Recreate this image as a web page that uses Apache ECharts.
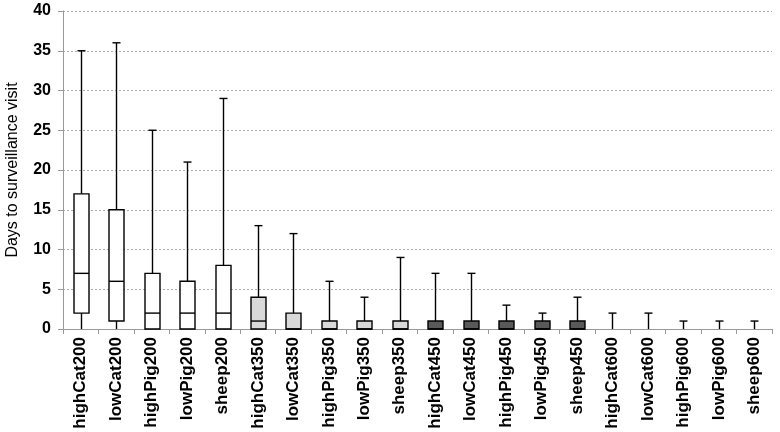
<!DOCTYPE html>
<html>
<head>
<meta charset="utf-8">
<script src="https://cdn.jsdelivr.net/npm/echarts@6/dist/echarts.min.js"></script>
<style>html,body{margin:0;padding:0;background:#fff;}#c{width:780px;height:432px;}</style>
</head>
<body>
<div id="c"></div>
<script>
var categories = ['highCat200','lowCat200','highPig200','lowPig200','sheep200',
  'highCat350','lowCat350','highPig350','lowPig350','sheep350',
  'highCat450','lowCat450','highPig450','lowPig450','sheep450',
  'highCat600','lowCat600','highPig600','lowPig600','sheep600'];
var mins    = [0,0,0,0,0, 0,0,0,0,0, 0,0,0,0,0, 0,0,0,0,0];
var q1s     = [2,1,0,0,0, 0,0,0,0,0, 0,0,0,0,0, 0,0,0,0,0];
var medians = [7,6,2,2,2, 1,0,0,0,0, 0,0,0,0,0, 0,0,0,0,0];
var q3s     = [17,15,7,6,8, 4,2,1,1,1, 1,1,1,1,1, 0,0,0,0,0];
var maxs    = [35,36,25,21,29, 13,12,6,4,9, 7,7,3,2,4, 2,2,1,1,1];
var yTicks  = [0,5,10,15,20,25,30,35,40];

function fillFor(name){
  if (/200$/.test(name)) return '#ffffff';
  if (/350$/.test(name)) return '#d9d9d9';
  if (/450$/.test(name)) return '#595959';
  return null;
}

var data = categories.map(function(c,i){
  return [i, mins[i], q1s[i], medians[i], q3s[i], maxs[i]];
});

var FONT = 'Liberation Sans, Arial, sans-serif';
var chart = echarts.init(document.getElementById('c'), null, {renderer:'canvas'});
var lineStyle = {stroke:'#000', lineWidth:1.4};
chart.setOption({
  animation:false,
  grid:{left:63,right:8,top:11,bottom:103,containLabel:false,outerBoundsMode:'none'},
  xAxis:{
    type:'category', data:categories, boundaryGap:true,
    axisLine:{lineStyle:{color:'#999',width:1}},
    axisTick:{show:true,length:5,lineStyle:{color:'#999'}},
    axisLabel:{rotate:90,interval:0,color:'#000',fontFamily:FONT,fontWeight:'bold',fontSize:17,margin:8}
  },
  yAxis:{
    type:'value', min:yTicks[0], max:yTicks[yTicks.length-1], interval:5,
    name:'Days to surveillance visit', nameLocation:'middle', nameGap:42,
    nameTextStyle:{color:'#000',fontFamily:FONT,fontSize:16},
    axisLine:{show:true,lineStyle:{color:'#999'}},
    axisTick:{show:true,length:5,lineStyle:{color:'#999'}},
    axisLabel:{color:'#000',fontFamily:FONT,fontWeight:'bold',fontSize:16,margin:12},
    splitLine:{show:true,lineStyle:{color:'#aaa',type:[2,2],width:1}}
  },
  series:[{
    type:'custom',
    data:data,
    encode:{x:0,y:[1,2,3,4,5]},
    renderItem:function(params, api){
      var idx = api.value(0);
      var pMin = api.coord([idx, api.value(1)]);
      var pQ1 = api.coord([idx, api.value(2)]);
      var pMed = api.coord([idx, api.value(3)]);
      var pQ3 = api.coord([idx, api.value(4)]);
      var pMax = api.coord([idx, api.value(5)]);
      var x = Math.round(pMin[0]) + 0.5;
      var bw = 15, cw = 8;
      var children = [];
      children.push({type:'line',shape:{x1:x,y1:pMax[1],x2:x,y2:pQ3[1]},style:lineStyle});
      children.push({type:'line',shape:{x1:x-cw/2,y1:pMax[1],x2:x+cw/2,y2:pMax[1]},style:lineStyle});
      children.push({type:'line',shape:{x1:x,y1:pQ1[1],x2:x,y2:pMin[1]},style:lineStyle});
      var fill = fillFor(categories[idx]);
      if (fill && pQ1[1] - pQ3[1] > 0.5) {
        children.push({type:'rect',shape:{x:x-bw/2,y:pQ3[1],width:bw,height:pQ1[1]-pQ3[1]},
          style:{fill:fill,stroke:'#000',lineWidth:1.4}});
        children.push({type:'line',shape:{x1:x-bw/2,y1:pMed[1],x2:x+bw/2,y2:pMed[1]},style:lineStyle});
      }
      return {type:'group',children:children};
    }
  }]
});
</script>
</body>
</html>
